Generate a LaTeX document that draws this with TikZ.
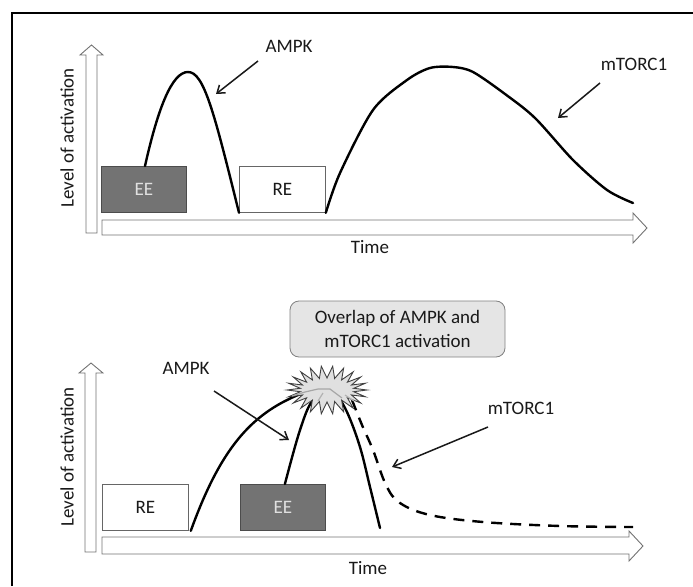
\documentclass[tikz,border=0pt]{standalone}
\usepackage{fontspec}
\setmainfont{Carlito}
\usetikzlibrary{arrows.meta}
\begin{document}
\begin{tikzpicture}[x=1pt,y=-1pt,
  lbl/.style={font=\fontsize{19}{24}\selectfont, text=black!90, inner sep=0pt},
  axisarrow/.style={draw=black!55, fill=white, line width=0.9pt, line join=miter},
  curve/.style={line width=2.4pt, black, line cap=round},
  dashcurve/.style={line width=2.4pt, black, dash pattern=on 11pt off 8pt},
  eebox/.style={draw=black!70, fill=black!55, text=black!12, line width=0.8pt, minimum width=85pt, minimum height=46pt, inner sep=0pt, font=\fontsize{19}{24}\selectfont, anchor=north west},
  rebox/.style={draw=black!60, fill=white, text=black!90, line width=0.8pt, minimum width=86pt, minimum height=46pt, inner sep=0pt, font=\fontsize{19}{24}\selectfont, anchor=north west},
  pointer/.style={line width=1.5pt, black!90, -{Straight Barb[length=7pt,width=10pt,line width=1.5pt]}},
  overlapbox/.style={draw=black!50, fill=black!10, rounded corners=9pt, line width=0.8pt, minimum width=215pt, minimum height=56pt, align=center, font=\fontsize{19}{24}\selectfont, text=black!90}
]
\useasboundingbox (0,0) rectangle (693,586);
% frame
\draw[line width=2pt] (12,586) -- (12,13) -- (693,13);

% ---------------- top panel ----------------
\draw[axisarrow] (86,233) -- (86,55) -- (80,55) -- (91.5,45) -- (103,55) -- (97,55) -- (97,233) -- cycle;
\draw[axisarrow] (102,220) -- (633,220) -- (633,213) -- (647,228) -- (633,243) -- (633,235) -- (102,235) -- cycle;

\node[eebox] (ee1) at (101,166) {EE};
\node[rebox] (re1) at (239,166) {RE};

\node[lbl, rotate=90] (lev1) at (67,138) {Level of activation};
\node[lbl] (time1) at (370,247) {Time};
\node[lbl] (ampk1) at (289,46) {AMPK};
\node[lbl] (mtor1) at (634,64) {mTORC1};

\coordinate (c1s) at (145,166);
\draw[curve] (c1s) .. controls (158,108) and (172,72) .. (188,72)
  .. controls (204,72) and (214,112) .. (re1.south west);
\draw[curve] plot[smooth, tension=0.5] coordinates {(re1.south east) (340,173) (373,110) (407,80) (430,68) (453,67) (473,72) (505,94) (535,118) (573,160) (607,190) (633,203)};

\coordinate (pa1s) at (258,61);
\coordinate (pa1e) at (216,94);
\draw[pointer] (pa1s) -- (pa1e);
\coordinate (pm1s) at (600,83);
\coordinate (pm1e) at (558,118);
\draw[pointer] (pm1s) -- (pm1e);

% ---------------- bottom panel ----------------
\draw[axisarrow] (85,552) -- (85,373) -- (79,373) -- (91,363) -- (103,373) -- (96,373) -- (96,552) -- cycle;
\draw[axisarrow] (102,537) -- (629,537) -- (629,531) -- (643,546) -- (629,561) -- (629,554) -- (102,554) -- cycle;

\node[rebox] (re2) at (102,484) {RE};
\node[eebox] (ee2) at (240,484) {EE};

\node[lbl, rotate=90] (lev2) at (67,457) {Level of activation};
\node[lbl] (time2) at (368,568) {Time};
\node[lbl] (ampk2) at (186,368) {AMPK};
\node[lbl] (mtor2) at (521,408) {mTORC1};
\node[overlapbox] (ov) at (397.5,329) {Overlap of AMPK and\\mTORC1 activation};

% curves
\draw[curve] ([xshift=2pt]re2.south east) .. controls (220,450) and (250,415) .. (298,395) -- (318,389);
\draw[curve] plot[smooth, tension=0.6] coordinates {([xshift=2pt]ee2.north) (300,430) (313,400) (333,388)};
\draw[curve] plot[smooth, tension=0.6] coordinates {(333,388) (347,412) (360,447) (370,487) (380,528)};
\coordinate (dend) at (633,527);
\draw[dashcurve] plot[smooth, tension=0.6] coordinates {(352,400) (362,425) (373,450) (386,485) (400,503) (430,515) (483,522) (560,526) (dend)};

% starburst
\draw[fill=black!12, draw=black!75, line width=0.9pt, line join=miter]
  plot[samples at={0,...,43}, variable=\k] ({327+ifthenelse(mod(\k,2)==0,40,27)*cos(\k*360/44)}, {390+ifthenelse(mod(\k,2)==0,24,12)*sin(\k*360/44)}) -- cycle;
\draw[black!35, line width=1.2pt] (292,396) -- (305,392) -- (318,389) -- (330,389) -- (342,398);
\draw[black!30, line width=1.2pt] (318,401) -- (323,393);
\draw[black!30, line width=1.2pt] (345,395) -- (354,401);

\coordinate (pa2s) at (214,391);
\coordinate (pa2e) at (289,440);
\draw[pointer] (pa2s) -- (pa2e);
\coordinate (pm2s) at (488,427);
\coordinate (pm2e) at (392,467);
\draw[pointer] (pm2s) -- (pm2e);
\end{tikzpicture}
\end{document}
